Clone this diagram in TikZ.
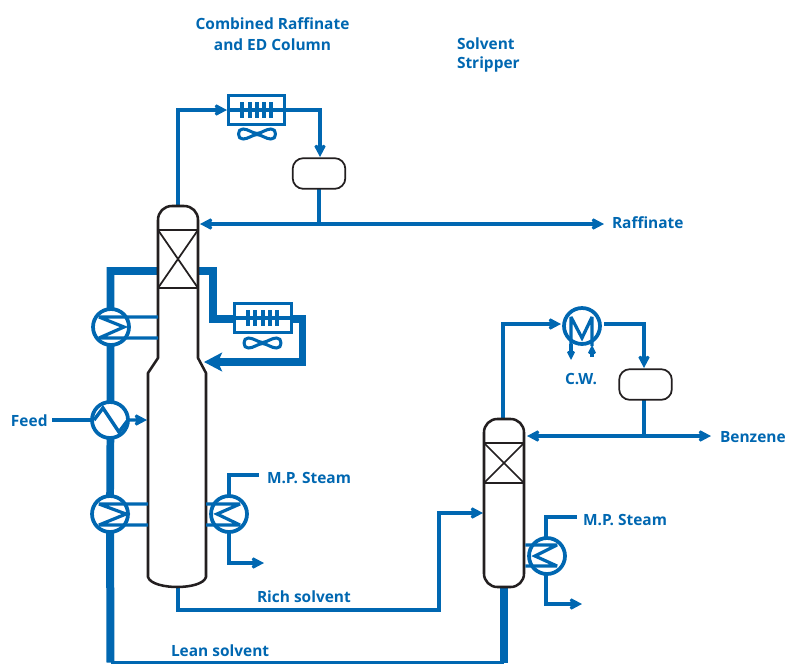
\documentclass[tikz,border=0pt]{standalone}
\usepackage{fontspec}
\setmainfont{Open Sans}
\usetikzlibrary{arrows.meta,calc}
\definecolor{pipeblue}{HTML}{0067B1}
\definecolor{vesselblack}{HTML}{231F20}
\tikzset{
  pipe/.style={draw=pipeblue,line width=2.6pt,line join=miter,miter limit=3},
  thinpipe/.style={draw=pipeblue,line width=2.4pt,line join=miter,miter limit=3},
  thickpipe/.style={draw=pipeblue,line width=5.8pt,line join=miter},
  arrowed/.style={-{Stealth[length=10.5pt,width=11pt,inset=2.8pt]}},
  bigarrowed/.style={-{Stealth[length=13.5pt,width=14pt,inset=3pt]}},
  smallarrowed/.style={-{Stealth[length=7.5pt,width=7.5pt,inset=1.6pt]}},
  vessel/.style={draw=vesselblack,line width=1.9pt,fill=white,line join=round},
  packing/.style={draw=vesselblack,line width=1.3pt},
  exch/.style={circle,draw=pipeblue,line width=2.8pt,fill=white,minimum size=27pt,inner sep=0pt,outer sep=0pt},
  drum/.style={rectangle,rounded corners=8pt,draw=vesselblack,line width=1.3pt,fill=white,minimum width=39.5pt,minimum height=23pt,inner sep=0pt,outer sep=0pt},
  cooler/.style={rectangle,draw=pipeblue,line width=2.3pt,fill=white,minimum width=42.5pt,minimum height=21.5pt,inner sep=0pt,outer sep=0pt},
  label/.style={text=pipeblue,font=\fontsize{11.6}{13}\selectfont\bfseries,inner sep=0pt,outer sep=0pt},
  labelL/.style={label,anchor=west},
  fanpic/.pic={\draw[draw=pipeblue,line width=2.3pt,line join=round]
    (-14,-5) .. controls (-9,-5) and (-5,-1) .. (0,-0.5) .. controls (5,-1) and (9,-5) .. (14,-5)
    .. controls (20,-6) and (20,6) .. (14,5) .. controls (9,5) and (5,1) .. (0,0.5)
    .. controls (-5,1) and (-9,5) .. (-14,5) .. controls (-20,6) and (-20,-6) .. (-14,-5) -- cycle;},
}
\begin{document}
\begin{tikzpicture}[x=0.75pt,y=-0.75pt]
\useasboundingbox (0,0) rectangle (788,664);
% named ports
\coordinate (c1top) at (178,206);
\coordinate (c1bot) at (178,587);
\coordinate (c1packL) at (158,271);
\coordinate (c1packR) at (198,271);
\coordinate (c1refluxA) at (200,224);
\coordinate (c1refluxB) at (204,362);
\coordinate (c1feed) at (147,420);
\coordinate (c1a) at (158,317);
\coordinate (c1b) at (158,338);
\coordinate (c1c) at (148,504);
\coordinate (c1d) at (148,525);
\coordinate (c1e) at (206,504);
\coordinate (c1f) at (206,525);
\coordinate (feedstart) at (52,420);
\coordinate (raffend) at (604,224);
\coordinate (benzend) at (711,436);
\coordinate (bottomL) at (110.5,662.5);
\coordinate (steamA) at (259,475);
\coordinate (steamAout) at (264,563);
\coordinate (steamB) at (577,517);
\coordinate (steamBout) at (582,604);
\coordinate (richin) at (483,513);
% equipment nodes (positions first, drawn over pipes)
\path (111,327) coordinate (hxAc) (110,420) coordinate (hxBc) (110,514) coordinate (hxCc)
      (229,514) coordinate (hxDc) (582,326) coordinate (hxEc) (547,556) coordinate (hxFc);
% pipes
\draw[thickpipe] (c1packL) -| (110.5,420) -- (hxCc);
\draw[thickpipe,line width=6pt] (hxCc) -- (bottomL);
\draw[thickpipe] (c1packR) -- (213,271) |- (263,319);
\draw[thickpipe,bigarrowed] (263,319) -| (302.5,362) -- (c1refluxB);
\draw[pipe,arrowed] (c1top) |- (227,110);
\draw[pipe,arrowed] (256,110) -| (320,157);
\draw[pipe,{Stealth[length=10.5pt,width=11pt,inset=2.8pt]}-{Stealth[length=10.5pt,width=11pt,inset=2.8pt]}] (c1refluxA) -- (raffend);
\draw[pipe] (319,174) -- (319,224);
\draw[pipe] (feedstart) -- (hxBc);
\draw[pipe,arrowed] (c1bot) -- (178,610) -| (439,513) -- (richin);
\draw[pipe] (bottomL) -- (503.5,662.5);
\draw[thickpipe,line width=6pt] (503.5,662.5) -- (503.5,587);
\draw[pipe,arrowed] (503,419) |- (561,324);
\draw[pipe,arrowed] (604,324) -| (644,368);
\draw[pipe] (644,385) -- (644,436);
\draw[pipe,{Stealth[length=10.5pt,width=11pt,inset=2.8pt]}-{Stealth[length=10.5pt,width=11pt,inset=2.8pt]}] (527,436) -- (benzend);
\draw[pipe] (hxDc) ++(0,-18) |- (steamA);
\draw[pipe,arrowed] (hxDc) ++(0,18) |- (steamAout);
\draw[pipe] (546,556) ++(0,-19) |- (steamB);
\draw[pipe,arrowed] (546,556) ++(0,19) |- (steamBout);
% vessels
\draw[vessel] (148,577) -- (148,373) -- (158,358) -- (158,220)
  .. controls (158,212) and (164,206) .. (172,206) -- (184,206)
  .. controls (192,206) and (198,212) .. (198,220) -- (198,358) -- (206,373) -- (206,577)
  .. controls (204,584) and (190,587) .. (177,587) .. controls (165,587) and (150,584) .. (148,577) -- cycle;
\draw[packing] (158,230) -- (198,230) (158,288) -- (198,288) (158,230) -- (198,288) (198,230) -- (158,288);
\node[rectangle,rounded corners=10pt,draw=vesselblack,line width=1.9pt,fill=white,minimum width=30pt,minimum height=126pt,inner sep=0pt] (col2) at (504,503) {};
\draw[packing] (484,443) -- (524,443) (484,483) -- (524,483) (484,443) -- (524,483) (524,443) -- (484,483);
\node[drum] (drumA) at (319,173.5) {};
\node[drum] (drumB) at (645.5,384.5) {};
% air coolers
\node[cooler] (coolerA) at (256.5,110) {};
\draw[thinpipe] (coolerA.west) -- (coolerA.east);
\foreach \fx in {242,250,257,264,271}{\draw[pipeblue,line width=2.3pt] (\fx,102) -- (\fx,118);}
\pic at (257,134) {fanpic};
\node[cooler] (coolerB) at (263,318) {};
\draw[thinpipe] (coolerB.west) -- (coolerB.east);
\foreach \fx in {248,255,263,270,277}{\draw[pipeblue,line width=2.3pt] (\fx,310) -- (\fx,326);}
\pic at (262.5,343) {fanpic};
% exchangers
\node[exch] (hxA) at (hxAc) {};
\node[exch] (hxB) at (hxBc) {};
\node[exch] (hxC) at (hxCc) {};
\node[exch] (hxD) at (hxDc) {};
\node[exch] (hxE) at (hxEc) {};
\node[exch] (hxF) at (hxFc) {};
\draw[thinpipe] (c1a) -- (99,317) -- (124,327) -- (99,338) -- (c1b);
\draw[pipe,arrowed] (94,420) -- (103,408) -- (119,432) -- (128,420) -- (c1feed);
\draw[thinpipe] (c1c) -- (99,504) -- (126,514) -- (99,525) -- (c1d);
\draw[thinpipe] (c1e) -- (240,504) -- (217,514) -- (240,525) -- (c1f);
\draw[thinpipe] (col2.east |- 0,545) -- (557,545) -- (535,556) -- (557,566) -- (col2.east |- 0,566);
\draw[thinpipe] (571,344) -- (571,317) -- (582,338) -- (592,317) -- (592,346);
\draw[thinpipe,smallarrowed] (571,344) -- (571,360);
\draw[thinpipe,smallarrowed] (592,357) -- (592,345);
% labels
\node[label] (tA) at (272.5,23.5) {Combined Raffinate};
\node[label] (tB) at (272.5,44.5) {and ED Column};
\node[labelL] (tC) at (457,44) {Solvent};
\node[labelL] (tD) at (457,64) {Stripper};
\node[labelL] (tE) at (612,223) {Raffinate};
\node[labelL] (tF) at (11,421) {Feed};
\node[labelL] (tG) at (267,478) {M.P. Steam};
\node[label] (tH) at (581,379) {C.W.};
\node[labelL] (tI) at (583,520) {M.P. Steam};
\node[labelL] (tJ) at (720,437) {Benzene};
\node[labelL] (tK) at (257,597) {Rich solvent};
\node[labelL] (tL) at (171,651) {Lean solvent};
\end{tikzpicture}
\end{document}
